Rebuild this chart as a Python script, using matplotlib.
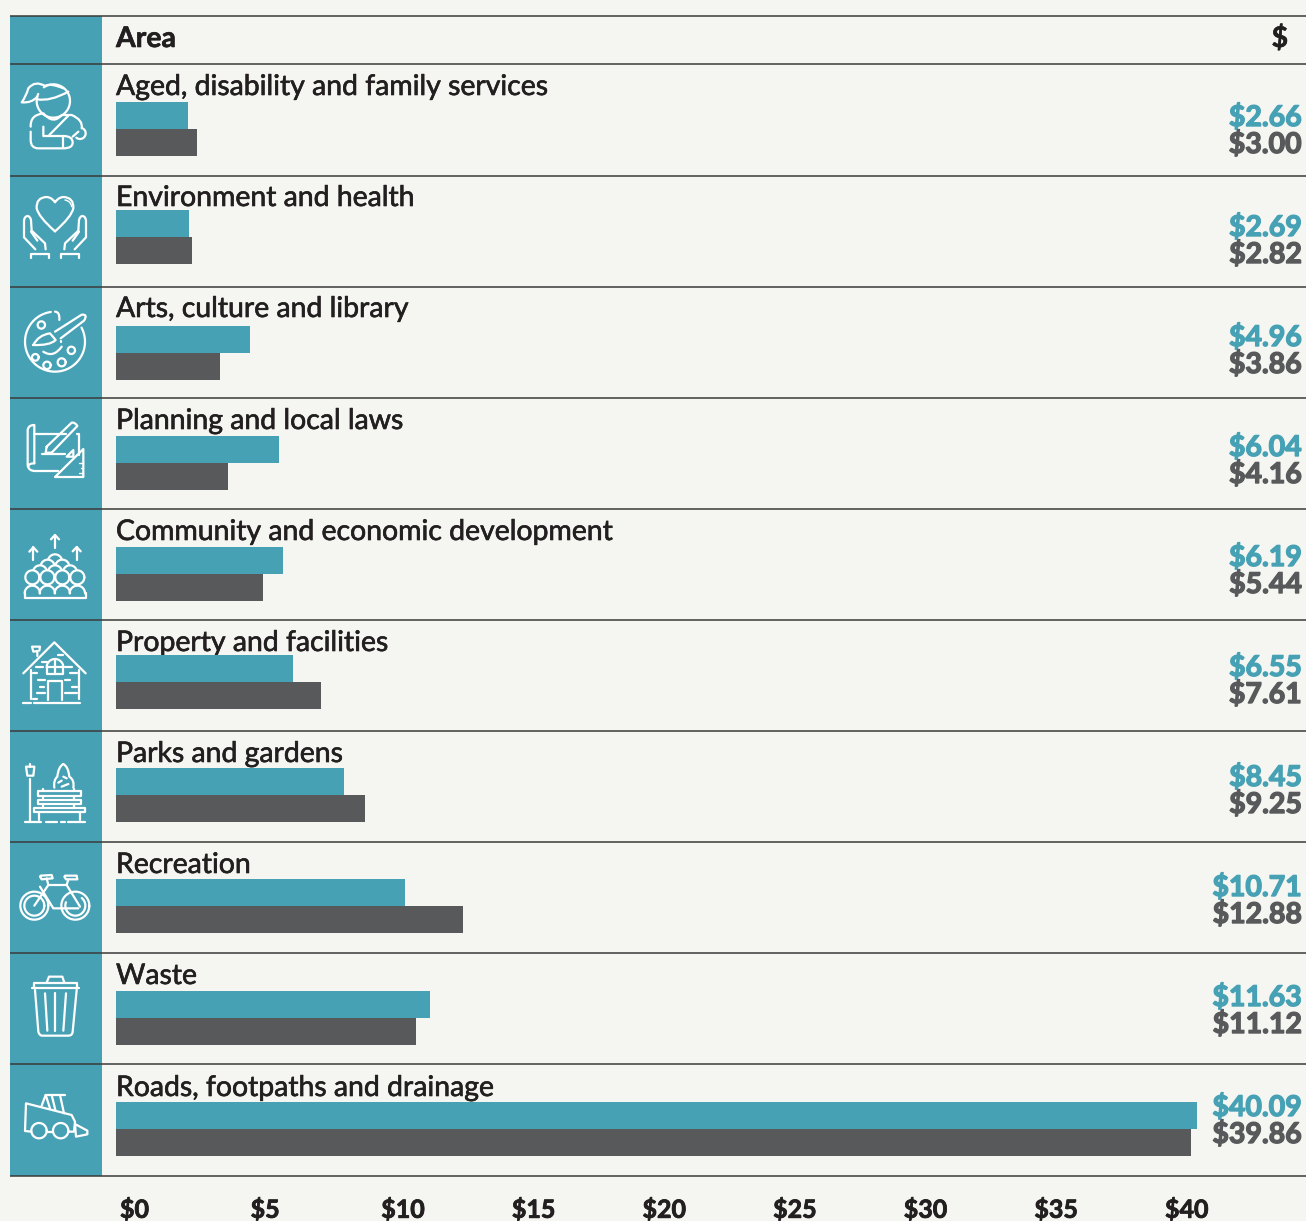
import matplotlib
matplotlib.use('Agg')
import matplotlib.pyplot as plt
import matplotlib.patheffects as pe
from matplotlib.path import Path
from matplotlib.patches import PathPatch
import numpy as np

areas = ['Aged, disability and family services', 'Environment and health', 'Arts, culture and library',
         'Planning and local laws', 'Community and economic development', 'Property and facilities',
         'Parks and gardens', 'Recreation', 'Waste', 'Roads, footpaths and drainage']
current = [2.66, 2.69, 4.96, 6.04, 6.19, 6.55, 8.45, 10.71, 11.63, 40.09]
previous = [3.00, 2.82, 3.86, 4.16, 5.44, 7.61, 9.25, 12.88, 11.12, 39.86]
axis_ticks = [0, 5, 10, 15, 20, 25, 30, 35, 40]

TEAL = '#47a1b5'
DARK = '#58595b'
INK = '#231f20'
BG = '#f5f6f1'
W, H = 1306, 1221
FONT = 'Lato'

rules = [16, 64, 175.5, 286.5, 397.5, 508.5, 619.5, 730.5, 841.5, 952.5, 1064, 1175.5]
bar_mid = [129, 237, 353, 463, 574, 682, 795, 906, 1018, 1129]
label_base = [95, 206, 317, 429, 540, 651, 762, 873, 984, 1096]
bar_h = 26.7

fig = plt.figure(figsize=(W / 100, H / 100), dpi=100, facecolor=BG)

# pixel layer: band, rules, text and icons
ax = fig.add_axes([0, 0, 1, 1])
ax.set_xlim(0, W)
ax.set_ylim(H, 0)
ax.axis('off')

ax.fill_between([10, 102], 16, 1176, color=TEAL, lw=0, zorder=1)
ax.hlines(rules, 10, W, color='#3a3a3a', lw=1.1, zorder=2)


def txt(x, y, s, size=20.45, color=INK, weight='normal', ha='left', thick=0.45):
    t = ax.text(x, y, s, fontsize=size, color=color, fontweight=weight, family=FONT, ha=ha, va='baseline', zorder=4)
    if thick:
        t.set_path_effects([pe.withStroke(linewidth=thick, foreground=color)])


txt(116, 47, 'Area', weight='bold')
txt(1288, 47, '$', weight='bold', ha='right')
for i, name in enumerate(areas):
    txt(116, label_base[i], name)
    txt(1302, 126 + 110 * i, f'${current[i]:.2f}', size=20.5, color=TEAL, weight='bold', ha='right', thick=1.0)
    txt(1302, 153 + 110 * i, f'${previous[i]:.2f}', size=20.5, color=DARK, weight='bold', ha='right', thick=1.0)

# bars on their own dollar scale, starting at the text margin
ax_bars = fig.add_axes([116 / W, 0, (W - 116) / W, 1])
ax_bars.set_xlim(0, (W - 116) / 26.97)
ax_bars.set_ylim(H, 0)
ax_bars.axis('off')
ax_bars.patch.set_alpha(0)
mid = np.array(bar_mid)
ax_bars.barh(mid - bar_h / 2, current, height=bar_h, color=TEAL, lw=0, zorder=2)
ax_bars.barh(mid + bar_h / 2, previous, height=bar_h, color=DARK, lw=0, zorder=2)

# the printed axis runs on a slightly tighter scale, labels hang from their left edge
ax_ticks = fig.add_axes([120 / W, 1 - 1195 / H, (1165 - 120) / W, 0.001])
ax_ticks.set_xlim(0, 40)
ax_ticks.set_yticks([])
ax_ticks.set_xticks(axis_ticks)
ax_ticks.set_xticklabels([f'${t}' for t in axis_ticks], fontsize=18, fontweight='bold', family=FONT, color=INK, ha='left')
ax_ticks.tick_params(axis='x', length=0, pad=2)
ax_ticks.patch.set_alpha(0)
for lbl in ax_ticks.get_xticklabels():
    lbl.set_path_effects([pe.withStroke(linewidth=0.6, foreground=INK)])
for sp in ax_ticks.spines.values():
    sp.set_visible(False)

ICON_LW = 1.6


# icon strokes: coordinates are in 3x units, offset by oy pixels
def stroke(pts, oy=0, lw=ICON_LW, close=False):
    verts = []
    codes = []
    for p in pts:
        if len(p) == 2:
            verts.append((p[0] / 3, oy + p[1] / 3))
            codes.append(Path.LINETO if verts[:-1] else Path.MOVETO)
        else:
            verts.append((p[0] / 3, oy + p[1] / 3))
            verts.append((p[2] / 3, oy + p[3] / 3))
            codes += [Path.CURVE3, Path.CURVE3]
    if close:
        verts.append(verts[0])
        codes.append(Path.CLOSEPOLY)
    ax.add_patch(PathPatch(Path(verts, codes), fc='none', ec='white', lw=lw, capstyle='round', joinstyle='round', zorder=3))


def arc(cx, cy, r, a0, a1, oy=0, lw=ICON_LW):
    t = np.radians(np.linspace(a0, a1, 60))
    ax.plot(cx / 3 + r / 3 * np.cos(t), oy + cy / 3 + r / 3 * np.sin(t), color='white', lw=lw, solid_capstyle='round', zorder=3)


# aged care: carer holding a child
arc(160, 303, 50, -125, 205)
stroke([(135, 258), (105, 240, 85, 265), (78, 290, 65, 307), (95, 310, 112, 290)])
stroke([(135, 258), (150, 248, 190, 265)])
stroke([(112, 298), (150, 305, 205, 275)])
stroke([(92, 380), (90, 345, 130, 340), (160, 375, 185, 345), (215, 345), (250, 360, 245, 385)])
arc(240, 400, 17, -60, 130)
stroke([(130, 380), (130, 408), (190, 408), (218, 408, 218, 428), (218, 445, 190, 445), (115, 445), (92, 445, 92, 420), (92, 395)])
stroke([(190, 408), (190, 445)])
stroke([(148, 405), (205, 347)])
stroke([(218, 410), (235, 395)])

# environment: heart in two hands
stroke([(165, 694), (115, 650, 110, 625), (108, 592, 140, 591), (155, 592, 165, 607), (175, 592, 190, 591), (222, 592, 220, 625), (215, 650, 165, 694)])
stroke([(195, 600), (212, 603, 215, 620)], lw=1)
for sx in (lambda v: v, lambda v: 330 - v):
    stroke([(sx(137), 748), (sx(135), 730), (sx(95), 692), (sx(93), 660), (sx(90), 648, sx(82), 648), (sx(72), 650, sx(72), 665), (sx(72), 712), (sx(106), 748)])
    stroke([(sx(93), 695), (sx(112), 722)])
    stroke([(sx(92), 775), (sx(92), 761), (sx(146), 761), (sx(146), 775)])

# arts: palette and brush
o = 300
arc(165, 125, 90, -28, 262, o)
stroke([(165, 35), (180, 35, 178, 60)], o)
stroke([(100, 135), (115, 105, 150, 100), (167, 120), (150, 137, 100, 135)], o)
stroke([(165, 95), (245, 44), (265, 42, 252, 62), (182, 115)], o)
for cx, cy, r in [(124, 75, 11), (214, 151, 11), (185, 187, 12), (141, 196, 11), (106, 172, 10)]:
    arc(cx, cy, r, 0, 360, o)
stroke([(130, 155), (160, 175, 185, 140)], o)
stroke([(182, 124), (182, 127)], o)

# planning: plan, pencil and set square
stroke([(103, 490), (103, 375), (85, 375, 83, 390), (83, 495), (85, 513, 105, 513), (175, 513)], o)
stroke([(103, 490), (85, 490, 85, 500)], o)
stroke([(103, 402), (198, 402)], o)
stroke([(230, 402), (238, 402), (238, 465)], o)
stroke([(140, 440), (215, 368), (225, 366, 232, 378), (155, 458), (137, 458), (140, 440)], o)
stroke([(125, 463), (195, 463)], o)
stroke([(165, 531), (250, 447), (250, 531)], o, close=True)
stroke([(200, 470), (220, 450), (220, 470)], o, close=True)
for x, y in [(238, 490), (242, 505), (238, 520)]:
    stroke([(x, y), (250, y)], o, lw=1)

# community: crowd with rising arrows
for x, top, low in [(100, 742, 780), (165, 705, 745), (230, 741, 780)]:
    stroke([(x, low), (x, top)], o)
    stroke([(x - 12, top + 13), (x, top), (x + 12, top + 13)], o)
for x in (97, 142, 187, 232):
    arc(x, 832, 21, 0, 360, o)
    arc(x, 880, 23, 180, 360, o)
stroke([(74, 880), (74, 895), (258, 895), (258, 880)], o)
for x, y in [(120, 817), (165, 817), (210, 817), (143, 800), (187, 800), (165, 784)]:
    arc(x, y, 21, 200, 340, o)

# property: brick house
o = 620
stroke([(70, 160), (163, 67), (257, 160)], o)
stroke([(112, 108), (112, 93), (100, 95), (96, 80), (120, 80), (118, 92)], o)
stroke([(92, 150), (92, 238)], o)
stroke([(238, 150), (238, 238)], o)
arc(165, 142, 25, 180, 360, o)
stroke([(140, 142), (140, 162), (190, 162), (190, 142)], o)
stroke([(165, 118), (165, 162)], o)
stroke([(140, 142), (190, 142)], o)
stroke([(145, 240), (145, 182), (185, 182), (185, 240)], o)
stroke([(70, 250), (92, 250)], o)
stroke([(103, 250), (240, 250)], o)
for x0, x1, y in [(108, 130, 142), (195, 215, 142), (125, 140, 125), (175, 188, 105), (210, 232, 160), (115, 135, 180), (195, 210, 180),
                  (100, 112, 160), (110, 135, 218), (195, 230, 218), (100, 112, 237), (215, 232, 200), (120, 132, 200)]:
    stroke([(x0, y), (x1, y)], o)

# parks: bench, lamp and shrub
stroke([(90, 478), (90, 605)], o)
stroke([(78, 440), (103, 440), (100, 467), (82, 467)], o, close=True)
stroke([(90, 432), (90, 440)], o)
for x0, x1 in [(76, 122), (137, 170), (184, 195), (203, 255)]:
    stroke([(x0, 605), (x1, 605)], o)
for x0, x1, y0, y1 in [(113, 242, 514, 528), (113, 242, 540, 553), (102, 254, 563, 577)]:
    stroke([(x0, y0), (x1, y0), (x1, y1), (x0, y1)], o, close=True)
for x in (118, 240):
    stroke([(x, 577), (x, 600)], o)
for x in (130, 222):
    stroke([(x, 507), (x, 514)], o)
    stroke([(x, 528), (x, 540)], o)
    stroke([(x, 553), (x, 563)], o)
stroke([(163, 503), (160, 480, 172, 470), (175, 440, 190, 432), (205, 440, 208, 470), (224, 480, 220, 503)], o)
stroke([(175, 488), (185, 482)], o)
stroke([(190, 470), (200, 475)], o)
stroke([(185, 500), (205, 492)], o)

# recreation: bicycle
for cx in (103, 226):
    arc(cx, 857, 42, 0, 360, o)
arc(103, 857, 30, 0, 360, o)
arc(226, 857, 30, -50, 200, o)
stroke([(103, 857), (145, 795), (200, 795), (240, 860)], o)
stroke([(120, 800), (160, 865), (235, 865)], o)
stroke([(145, 795), (140, 775)], o)
stroke([(205, 778), (200, 795)], o)
stroke([(122, 767), (155, 765), (158, 775), (125, 778), (120, 770)], o)
stroke([(195, 767), (230, 767), (232, 778), (198, 778), (193, 770)], o)

# waste: bin
o = 940
stroke([(96, 145), (238, 145)], o)
stroke([(103, 145), (103, 130), (232, 130), (232, 145)], o)
stroke([(140, 128), (147, 110), (187, 110), (193, 128)], o)
stroke([(105, 150), (115, 275), (118, 287, 127, 287), (205, 287), (217, 287, 218, 275), (230, 150)], o)
stroke([(135, 160), (142, 272)], o)
stroke([(166, 160), (166, 272)], o)
stroke([(198, 160), (190, 272)], o)

# roads: skid steer loader
stroke([(94, 575), (75, 573), (78, 490), (215, 525), (225, 545), (222, 575), (205, 575)], o)
stroke([(140, 575), (159, 575)], o)
arc(117, 572, 23, 0, 360, o)
arc(182, 572, 23, 0, 360, o)
stroke([(125, 497), (137, 465), (195, 465)], o)
stroke([(137, 465), (150, 505)], o)
stroke([(155, 465), (166, 510)], o)
stroke([(180, 465), (192, 520)], o)
stroke([(225, 552), (262, 572), (262, 583), (228, 590)], o, close=True)

fig.savefig('out.png', dpi=100, facecolor=BG)
